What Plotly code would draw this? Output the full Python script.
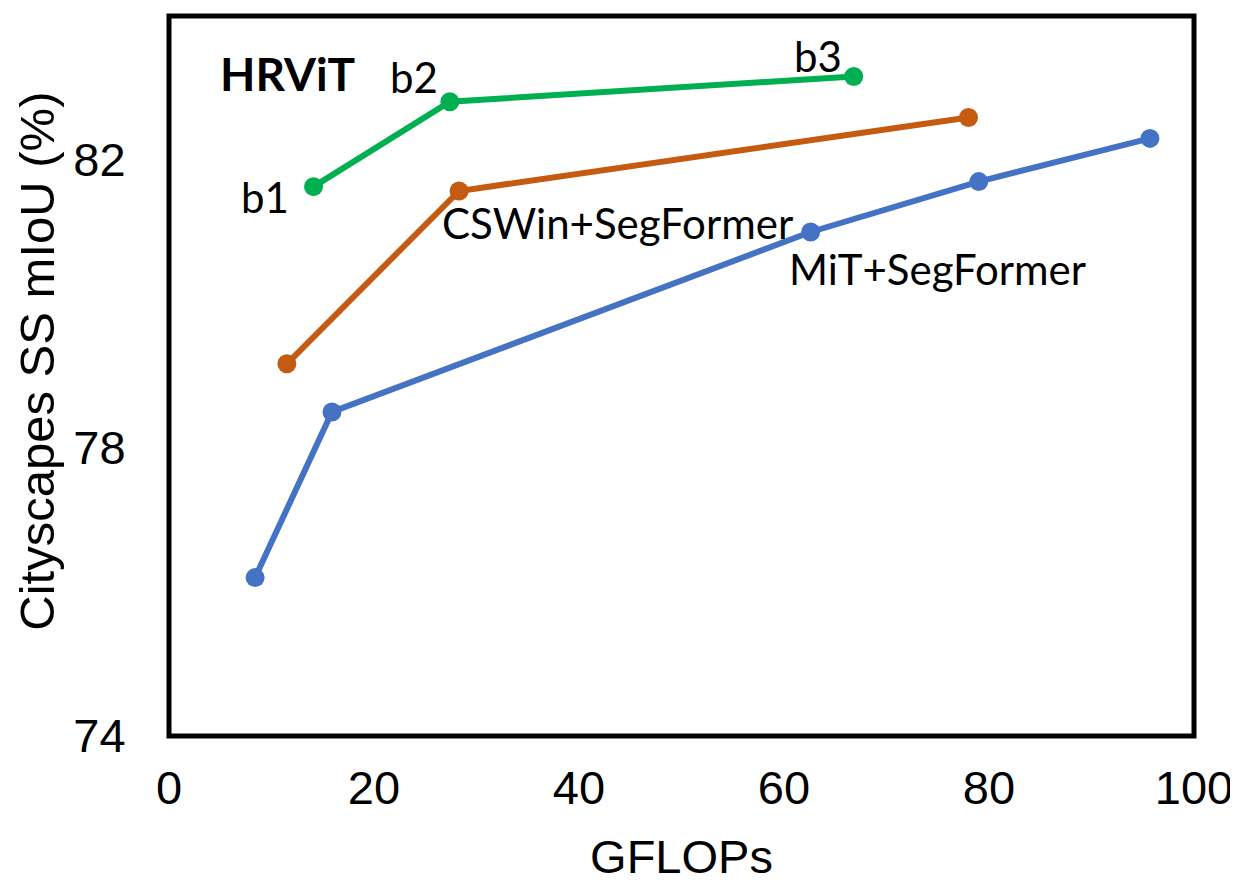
import plotly.graph_objects as go

# Data
hrvit_x = [14.1, 27.4, 66.8]
hrvit_y = [81.63, 82.81, 83.16]
hrvit_labels = ["b1", "b2", "b3"]

cswin_x = [11.5, 28.3, 78.0]
cswin_y = [79.17, 81.57, 82.59]

mit_x = [8.4, 15.9, 62.6, 79.0, 95.7]
mit_y = [76.2, 78.5, 81.0, 81.7, 82.3]

x_ticks = [0, 20, 40, 60, 80, 100]
y_ticks = [74, 78, 82]

GREEN = "#00B050"
ORANGE = "#C55A11"
BLUE = "#4472C4"

fig = go.Figure()
for xs, ys, c in [(mit_x, mit_y, BLUE), (cswin_x, cswin_y, ORANGE), (hrvit_x, hrvit_y, GREEN)]:
    fig.add_trace(go.Scatter(x=xs, y=ys, mode="lines+markers",
                             line=dict(color=c, width=6),
                             marker=dict(color=c, size=19),
                             showlegend=False, cliponaxis=False))

LBL_FONT = "Lato"
ann = [
    dict(text="<b>HRViT</b>", x=11.6, y=83.2, size=46),
    dict(text=hrvit_labels[0], x=9.4, y=81.49, size=42),
    dict(text=hrvit_labels[1], x=23.9, y=83.15, size=42),
    dict(text=hrvit_labels[2], x=63.3, y=83.45, size=42),
    dict(text="CSWin+SegFormer", x=43.8, y=81.13, size=42),
    dict(text="MiT+SegFormer", x=75.0, y=80.49, size=42),
]
for a in ann:
    fig.add_annotation(x=a["x"], y=a["y"], xref="x", yref="y", text=a["text"],
                       showarrow=False, xanchor="center", yanchor="middle",
                       font=dict(family=LBL_FONT, size=a["size"], color="black"))

fig.add_annotation(text="Cityscapes SS mIoU (%)", xref="paper", yref="paper",
                   x=-0.129, y=0.521, textangle=-90, showarrow=False,
                   xanchor="center", yanchor="middle",
                   font=dict(family="Liberation Sans, Arial", size=49, color="black"))

fig.add_shape(type="rect", xref="paper", yref="paper", x0=0, x1=1, y0=0, y1=1,
              line=dict(color="black", width=5), layer="above")

fig.update_layout(
    width=1230, height=875,
    margin=dict(l=161, r=44, t=8, b=147, autoexpand=False),
    plot_bgcolor="white", paper_bgcolor="white",
    font=dict(family="Liberation Sans, Arial", size=47, color="black"),
    xaxis=dict(range=[0, 100], tickvals=x_ticks, showgrid=False, zeroline=False,
               showline=False, ticks="outside", ticklen=11, tickcolor="rgba(0,0,0,0)",
               automargin=False, ticklabeloverflow="allow",
               title=dict(text="GFLOPs", standoff=32, font=dict(size=47))),
    yaxis=dict(range=[74, 84], tickvals=y_ticks, showgrid=False, zeroline=False,
               showline=False, ticks="outside", ticklen=33, tickcolor="rgba(0,0,0,0)",
               automargin=False),
)

fig.write_html("out.html")
